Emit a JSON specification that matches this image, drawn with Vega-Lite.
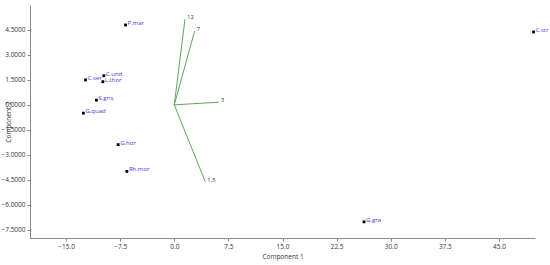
{
  "$schema": "https://vega.github.io/schema/vega-lite/v6.json",
  "autosize": "none",
  "width": 505,
  "height": 233,
  "padding": {"left": 30, "top": 5, "right": 15, "bottom": 27},
  "background": "white",
  "config": {
    "view": {"stroke": null},
    "axis": {
      "grid": false,
      "domainColor": "#8a8a8a",
      "tickColor": "#8a8a8a",
      "tickSize": 3,
      "labelFont": "Open Sans",
      "labelFontSize": 6.5,
      "labelColor": "#333333",
      "titleFont": "Open Sans",
      "titleFontSize": 6.5,
      "titleFontWeight": "normal",
      "titleColor": "#333333"
    }
  },
  "datasets": {
    "points": [
      {"name": "P.mar", "c1": -6.76, "c2": 4.8},
      {"name": "C.ser", "c1": -12.3, "c2": 1.5},
      {"name": "C.und", "c1": -9.76, "c2": 1.75},
      {"name": "L.thor", "c1": -9.9, "c2": 1.39},
      {"name": "S.gris", "c1": -10.8, "c2": 0.28},
      {"name": "G.quad", "c1": -12.6, "c2": -0.5},
      {"name": "G.hor", "c1": -7.78, "c2": -2.39},
      {"name": "Rh.mor", "c1": -6.57, "c2": -4.0},
      {"name": "G.gra", "c1": 26.3, "c2": -7.03},
      {"name": "C.str", "c1": 49.8, "c2": 4.38}
    ],
    "vectors": [
      {"var": "12", "o1": 0, "o2": 0, "c1": 1.48, "c2": 5.14},
      {"var": "7", "o1": 0, "o2": 0, "c1": 2.82, "c2": 4.44},
      {"var": "3", "o1": 0, "o2": 0, "c1": 6.16, "c2": 0.16},
      {"var": "1,5", "o1": 0, "o2": 0, "c1": 4.3, "c2": -4.62}
    ]
  },
  "layer": [
    {
      "data": {"name": "points"},
      "mark": {"type": "point", "shape": "square", "filled": true, "size": 8, "color": "black", "opacity": 1},
      "encoding": {
        "x": {"field": "c1", "type": "quantitative",
              "scale": {"domain": [-20, 50], "nice": false, "zero": false},
              "axis": {"title": "Component 1", "values": [-15, -7.5, 0, 7.5, 15, 22.5, 30, 37.5, 45], "tickCount": 30, "format": ".1f", "titlePadding": 4, "labelPadding": 2, "labelOverlap": false}},
        "y": {"field": "c2", "type": "quantitative",
              "scale": {"domain": [-8, 6], "nice": false, "zero": false},
              "axis": {"title": "Component 2", "values": [-7.5, -6, -4.5, -3, -1.5, 0, 1.5, 3, 4.5], "tickCount": 30, "format": ".4f", "labelPadding": 2, "labelOverlap": false, "labelBound": false, "labelFlush": false, "titleX": -22, "titleBaseline": "middle"}}
      }
    },
    {
      "data": {"name": "points"},
      "mark": {"type": "text", "align": "left", "baseline": "middle", "dx": 2, "dy": -2, "font": "Open Sans", "fontSize": 6, "color": "#3a3ae0"},
      "encoding": {
        "x": {"field": "c1", "type": "quantitative"},
        "y": {"field": "c2", "type": "quantitative"},
        "text": {"field": "name"}
      }
    },
    {
      "data": {"name": "vectors"},
      "mark": {"type": "rule", "color": "#5aa85a", "strokeWidth": 1},
      "encoding": {
        "x": {"field": "o1", "type": "quantitative"},
        "y": {"field": "o2", "type": "quantitative"},
        "x2": {"field": "c1"},
        "y2": {"field": "c2"}
      }
    },
    {
      "data": {"name": "vectors"},
      "mark": {"type": "text", "align": "left", "baseline": "middle", "dx": 2, "dy": -2, "font": "Open Sans", "fontSize": 6, "color": "#444444"},
      "encoding": {
        "x": {"field": "c1", "type": "quantitative"},
        "y": {"field": "c2", "type": "quantitative"},
        "text": {"field": "var"}
      }
    }
  ]
}
